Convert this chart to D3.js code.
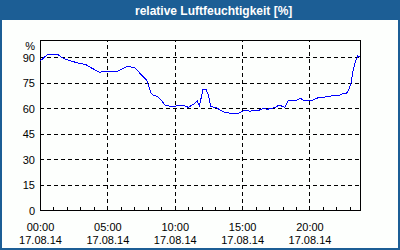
<!DOCTYPE html>
<html>
<head>
<meta charset="utf-8">
<script src="https://cdn.jsdelivr.net/npm/d3@7"></script>
<style>
  body { margin: 0; background: #fff; }
  svg { display: block; font-family: "Liberation Sans", Arial, sans-serif; }
</style>
</head>
<body>
<svg></svg>
<script>
// relative Luftfeuchtigkeit, 17.08.14
const times = ['00:00','00:20','00:35','01:20','01:35','01:50','02:20','02:50','03:25','03:50',
  '04:25','04:55','05:45','06:30','07:05','07:30','07:55','08:00','08:15','08:25',
  '08:45','09:00','09:15','09:45','10:15','10:45','11:00','11:25','11:40','11:50',
  '12:05','12:20','12:30','12:40','13:05','13:35','14:05','14:35','14:50','15:05',
  '15:35','16:10','16:35','16:50','17:25','17:40','17:55','18:10','18:25','18:50',
  '19:05','19:20','19:30','19:50','20:15','20:40','21:30','21:45','22:15','22:30',
  '22:45','22:55','23:05','23:15','23:25','23:35','23:45'];
const humidity = [87.5,90,91.4,91.4,90,88.8,87.5,86.5,85.5,83.5,
  81,81.6,81.6,84.5,83.5,79.6,76.5,74.5,68.6,67.6,
  66.7,64.7,61.8,60.8,61.4,61.2,60.4,62.4,64.3,61.2,
  70.6,70.6,67.6,60.8,60.2,57.8,56.9,56.5,57.3,58.4,
  58.2,58.4,59.8,59.2,60.2,61.4,61.2,60.4,64.1,64.7,
  64.7,65.7,64.7,64.1,64.7,66.1,66.7,67.5,67.5,68.6,
  68.6,70.6,74.5,82.4,87.3,90.6,90.2];
const yTicks = [0, 15, 30, 45, 60, 75, 90];
const xTickHours = [0, 5, 10, 15, 20];
const day = '17.08.14';
const title = 'relative Luftfeuchtigkeit [%]';

const width = 400;
const height = 250;
const plotLeft = 40, plotRight = 360, plotTop = 40, plotBottom = 210;

const parseTime = d3.timeParse('%Y-%m-%d %H:%M');
const t = s => parseTime('2014-08-17 ' + s);

let svg = d3.select('svg').attr('width', width).attr('height', height);

svg.append('rect').attr('width', width).attr('height', height).attr('fill', '#fdfffd');

// title bar
svg.append('rect').attr('x', 0).attr('y', 0).attr('width', width).attr('height', 20)
  .attr('fill', '#1c5e95');
svg.append('text').attr('x', 135).attr('y', 15)
  .attr('fill', '#fff').attr('font-weight', 'bold').attr('font-size', 12)
  .text(title);

// outer frame
svg.append('rect').attr('x', 1).attr('y', 1).attr('width', width - 2).attr('height', height - 2)
  .attr('fill', 'none').attr('stroke', '#1c5e95').attr('stroke-width', 2);

const xScale = d3.scaleTime()
  .domain([t('00:00'), t('23:45')])
  .range([plotLeft, plotRight]);
const yScale = d3.scaleLinear()
  .domain([0, 100])
  .range([plotBottom, plotTop]);

// grid
const hGrid = svg.append('g')
  .attr('transform', 'translate(' + plotLeft + ',0)')
  .call(d3.axisLeft(yScale).tickValues(yTicks.slice(1)).tickSize(-(plotRight - plotLeft)).tickFormat(''));
hGrid.select('.domain').remove();
hGrid.selectAll('line').attr('stroke', '#000').attr('stroke-dasharray', '4,3')
  .attr('shape-rendering', 'crispEdges');

const vGrid = svg.append('g')
  .attr('transform', 'translate(0,' + plotBottom + ')')
  .call(d3.axisBottom(xScale).tickValues(xTickHours.slice(1).map(h => t(h + ':00'))).tickSize(-(plotBottom - plotTop)).tickFormat(''));
vGrid.select('.domain').remove();
vGrid.selectAll('line').attr('stroke', '#000').attr('stroke-dasharray', '4,3')
  .attr('shape-rendering', 'crispEdges');

// plot frame
svg.append('rect').attr('x', plotLeft + 0.5).attr('y', plotTop + 0.5)
  .attr('width', plotRight - plotLeft).attr('height', plotBottom - plotTop)
  .attr('fill', 'none').attr('stroke', '#000').attr('shape-rendering', 'crispEdges');

// hourly minor ticks
const minor = svg.append('g')
  .attr('transform', 'translate(0,' + plotBottom + ')')
  .call(d3.axisBottom(xScale).ticks(d3.timeHour.every(1)).tickSize(-3).tickFormat(''));
minor.select('.domain').remove();
minor.selectAll('line').attr('stroke', '#000').attr('shape-rendering', 'crispEdges');

// y labels
const yAxis = svg.append('g')
  .attr('transform', 'translate(' + plotLeft + ',0)')
  .call(d3.axisLeft(yScale).tickValues(yTicks).tickSize(0).tickPadding(5));
yAxis.select('.domain').remove();
yAxis.selectAll('text').attr('font-family', '"Liberation Sans", Arial, sans-serif')
  .attr('font-size', 11).attr('fill', '#000').attr('dy', '0.4em');
svg.append('text').attr('x', 35).attr('y', 49.5).attr('text-anchor', 'end')
  .attr('font-size', 11).text('%');

// x labels
const xAxis = svg.append('g')
  .attr('transform', 'translate(0,' + plotBottom + ')')
  .call(d3.axisBottom(xScale).tickValues(xTickHours.map(h => t(h + ':00'))).tickSize(0).tickFormat(''));
xAxis.select('.domain').remove();
xAxis.selectAll('.tick').each(function (d) {
  const txt = d3.select(this).select('text')
    .attr('font-family', '"Liberation Sans", Arial, sans-serif')
    .attr('font-size', 11).attr('fill', '#000').attr('y', 0).attr('dy', null);
  txt.append('tspan').attr('x', 0).attr('y', 20.5).text(d3.timeFormat('%H:%M')(d));
  txt.append('tspan').attr('x', 0).attr('y', 33.5).text(day);
});

// data line
const line = d3.line()
  .x((d, i) => xScale(t(times[i])))
  .y(d => yScale(d));
svg.append('path').datum(humidity)
  .attr('d', line)
  .attr('fill', 'none').attr('stroke', '#0000ff').attr('stroke-width', 1)
  .attr('shape-rendering', 'crispEdges');
</script>
</body>
</html>
